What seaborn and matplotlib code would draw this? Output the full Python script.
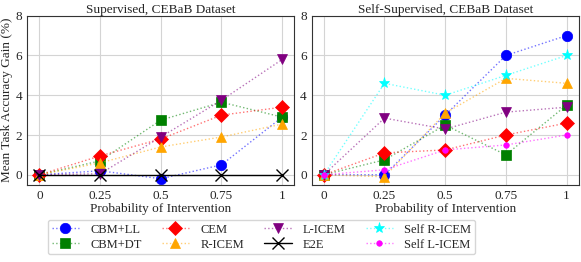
import matplotlib
matplotlib.use("Agg")
import matplotlib.pyplot as plt
import matplotlib.colors as mcolors
import numpy as np
import pandas as pd
import seaborn as sns

probs = [0, 0.25, 0.5, 0.75, 1]

# Supervised, CEBaB
sup_cbm_ll = [0, 0.2, -0.2, 0.5, 2.9]
sup_cbm_dt = [0, 0.7, 2.75, 3.65, 2.9]
sup_cem = [0, 0.95, 1.8, 3.0, 3.4]
sup_r_icem = [0, 0.6, 1.4, 1.9, 2.55]
sup_l_icem = [0, 0.05, 1.9, 3.75, 5.8]
sup_e2e = [0, 0, 0, 0, 0]

# Self-supervised, CEBaB
self_cbm_ll = [0, 0, 3.0, 6.0, 7.0]
self_cbm_dt = [0, 0.75, 2.5, 1.0, 3.5]
self_cem = [0, 1.1, 1.25, 2.0, 2.6]
self_r_icem = [0, -0.1, 3.1, 4.85, 4.6]
self_l_icem = [0, 2.85, 2.3, 3.15, 3.4]
self_self_r_icem = [0, 4.6, 4.0, 5.0, 6.0]
self_self_l_icem = [0, 0.25, 1.25, 1.5, 2.0]

# name -> (color, marker, markersize, linestyle)
styles = {
    "CBM+LL": ("blue", "o", 7.5, ":"),
    "CBM+DT": ("green", "s", 7, ":"),
    "CEM": ("red", "D", 7.5, ":"),
    "R-ICEM": ("orange", "^", 7.5, ":"),
    "L-ICEM": ("purple", "v", 7.5, ":"),
    "E2E": ("black", "x", 8, "-"),
    "Self R-ICEM": ("cyan", "*", 8, ":"),
    "Self L-ICEM": ("magenta", "o", 4, ":"),
}

panels = [
    ("Supervised, CEBaB Dataset", {
        "CBM+LL": sup_cbm_ll, "CBM+DT": sup_cbm_dt, "CEM": sup_cem,
        "R-ICEM": sup_r_icem, "L-ICEM": sup_l_icem, "E2E": sup_e2e,
    }),
    ("Self-Supervised, CEBaB Dataset", {
        "CBM+LL": self_cbm_ll, "CBM+DT": self_cbm_dt, "CEM": self_cem,
        "R-ICEM": self_r_icem, "L-ICEM": self_l_icem,
        "Self R-ICEM": self_self_r_icem, "Self L-ICEM": self_self_l_icem,
    }),
]

sns.set_theme(style="whitegrid")
plt.rcParams["font.family"] = ["Liberation Serif", "DejaVu Serif"]

fig, axes = plt.subplots(1, 2, figsize=(5.81, 2.62), dpi=100)
fig.subplots_adjust(left=0.047, right=0.996, top=0.94, bottom=0.295, wspace=0.065)

fs = 9.5
handles = {}
for ax, (title, series) in zip(axes, panels):
    for name, vals in series.items():
        color, marker, ms, ls = styles[name]
        alpha = 1.0 if name == "E2E" else 0.55
        line_col = mcolors.to_rgba(color, alpha)
        df = pd.DataFrame({"p": probs, "gain": vals})
        sns.lineplot(data=df, x="p", y="gain", ax=ax, color=line_col,
                     linestyle=ls, linewidth=1.0, marker=marker, markersize=ms,
                     markerfacecolor=color, markeredgecolor=color,
                     markeredgewidth=1.0 if marker == "x" else 0.5,
                     label=name, legend=False)
        handles[name] = ax.get_lines()[-1]
    ax.set_title(title, fontsize=fs, pad=2)
    ax.set_xlim(-0.05, 1.05)
    ax.set_ylim(-0.5, 8)
    ax.set_xticks(probs)
    ax.set_xticklabels(["0", "0.25", "0.5", "0.75", "1"])
    ax.set_yticks([0, 2, 4, 6, 8])
    ax.set_xlabel("Probability of Intervention", fontsize=fs, labelpad=1)
    ax.set_ylabel("")
    ax.tick_params(labelsize=fs, pad=3.5, length=0)
    ax.grid(True, color="#d4d4d4", linewidth=0.8)
    for sp in ax.spines.values():
        sp.set_color("#333333")
        sp.set_linewidth(0.8)

axes[0].set_ylabel("Mean Task Accuracy Gain (%)", fontsize=fs, labelpad=2)

order = ["CBM+LL", "CBM+DT", "CEM", "R-ICEM", "L-ICEM", "E2E", "Self R-ICEM", "Self L-ICEM"]
fig.legend([handles[n] for n in order], order, loc="lower center",
           bbox_to_anchor=(0.45, 0.005), ncol=4, fontsize=9, frameon=True,
           handlelength=2.2, columnspacing=1.6, handletextpad=0.9,
           labelspacing=0.25, borderpad=0.3, edgecolor="#cccccc")

fig.savefig("out.png", dpi=100)
